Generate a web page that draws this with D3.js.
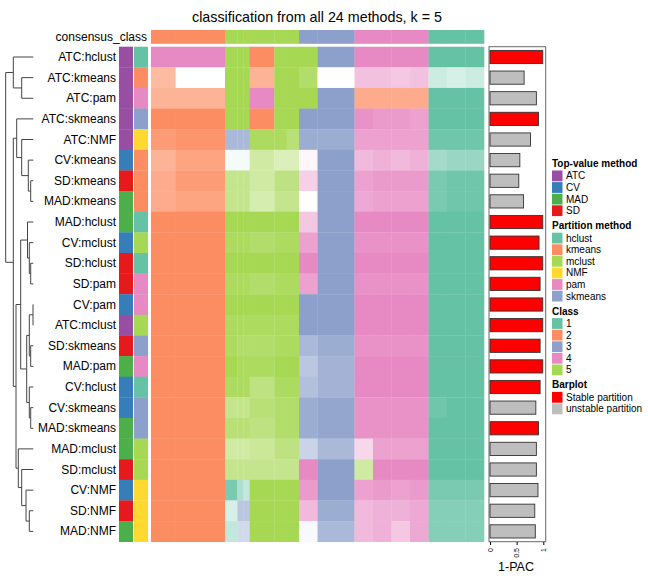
<!DOCTYPE html>
<html><head><meta charset="utf-8">
<script src="https://cdn.jsdelivr.net/npm/d3@7"></script>
<style>body{margin:0;background:#fff} text{font-family:"Liberation Sans",Arial,Helvetica,sans-serif}</style>
</head><body><svg id="c" width="648" height="576"></svg>
<script>
// ---------------- data ----------------
const methods = ["ATC:hclust","ATC:kmeans","ATC:pam","ATC:skmeans","ATC:NMF","CV:kmeans","SD:kmeans","MAD:kmeans",
  "MAD:hclust","CV:mclust","SD:hclust","SD:pam","CV:pam","ATC:mclust","SD:skmeans","MAD:pam",
  "CV:hclust","CV:skmeans","MAD:skmeans","MAD:mclust","SD:mclust","CV:NMF","SD:NMF","MAD:NMF"];
const topValue = methods.map(m => m.split(":")[0]);
const partition = methods.map(m => m.split(":")[1]);
const onePAC = [0.99,0.64,0.87,0.91,0.76,0.56,0.54,0.63,0.99,0.92,0.99,0.94,0.99,0.99,0.94,0.99,0.94,0.86,0.91,0.87,0.87,0.90,0.84,0.85];
const stable = [1,0,0,1,0,0,0,0,1,1,1,1,1,1,1,1,1,0,1,0,0,0,0,0];
// sample blocks (number of samples in each block of columns, 54 samples)
const blockWidths = [4,8,2,1,1,4,2,2,3,6,3,3,3,3,3,3,3];
const consensusClass = "22555555334444111";
// class per block (0 = no class / white)
const rowClass = [
 "44555255534444111","20555255504444111","22555455532222111","22555255334444111",
 "22333555334444111","22111555434444111","22555555434444111","22555555034444111",
 "22555555434444111","22555555434444111","22555555434444111","22555555434444111",
 "22555555334444111","22555555334444111","22555555334444111","22555555334444111",
 "22555555334444111","22555555334444111","22555555334444111","22555555334444111",
 "22555555435444111","22111555434444111","22133555434444111","22133555334444111"];
// membership per block, hex digit 0..f  (f = 1)
const rowMembership = [
 "fffffffffffffffff","90fffaffd08878545","aaffffffffbbbbfff","ffffffffffeddcfff",
 "debbbeecddcccceee","ac1118661f9a9a9aa","bdaaa8bb6fcddddee","bcaaa7aa0fbcccdee",
 "ffffffff7ffffffff","ffeeedeecfeeeefff","fffffffffffffffff","ffeeedeecfeeeefff",
 "fffffffffffffffff","ffeeeeeefffffffff","ffedddeebdeeeefff","fffeeeff9cfffffff",
 "ffeeebeeacfffffff","ffaaacdddeeeeeeff","ffcccbdddeeeeefff","ff8889bb7b5cccfff",
 "ffaaaaaaff8ffffff","ffd86fffdfcdcdddd","ff499fff9d9aabccc","ff666fff1b9a7bccc"];
// dendrogram: [height, left, right], leaves = row index
const dendro = [27.6,
  [20, 0, [11.6, 1, 2]],
  [20,
    [16.6, 3, [11.6, 4, [5, 5, [2.6, 6, 7]]]],
    [17.3,
      [12.6,
        [5.8, 8, [4, 9, [2.6, 10, 11]]],
        [6.6, [4, [0.3, 12, 13], [2.6, 14, 15]], [4, 16, [2.6, 17, 18]]]],
      [15, 19, [11.6, 20, [7.3, 21, [4, 22, 23]]]]]]];

const classColors = {"1":"#66C2A5","2":"#FC8D62","3":"#8DA0CB","4":"#E78AC3","5":"#A6D854"};
const topColors = {ATC:"#984EA3",CV:"#377EB8",MAD:"#4DAF4A",SD:"#E41A1C"};
const partColors = {hclust:"#66C2A5",kmeans:"#FC8D62",mclust:"#A6D854",NMF:"#FFD92F",pam:"#E78AC3",skmeans:"#8DA0CB"};
const barColors = {stable:"#FF0000", unstable:"#BEBEBE"};

// ---------------- drawing ----------------
const svg = d3.select("#c");
const y = d3.scaleBand().domain(d3.range(methods.length)).range([46.7, 541.7]);
const x = d3.scaleLinear().domain([0, 54]).range([151, 484]);
const starts = [0, ...d3.cumsum(blockWidths)];

svg.append("text").attr("x", 317).attr("y", 22).attr("text-anchor","middle")
  .attr("font-size", 14.3).text("classification from all 24 methods, k = 5");

// consensus row
svg.append("text").attr("x", 147).attr("y", 36.8).attr("text-anchor","end")
  .attr("dominant-baseline","central").attr("font-size", 12).text("consensus_class");
svg.append("g").selectAll("rect").data(consensusClass.split(""))
  .join("rect").attr("x",(d,i)=>x(starts[i])).attr("width",(d,i)=>x(starts[i+1])-x(starts[i])+0.3)
  .attr("y",30).attr("height",13.8).attr("fill",d=>classColors[d]);

// heatmap cells
const cells = [];
rowClass.forEach((s,r)=>s.split("").forEach((c,b)=>{
  cells.push({r,b,c,m:parseInt(rowMembership[r][b],16)/15});
}));
svg.append("g").selectAll("rect").data(cells).join("rect")
  .attr("x",d=>x(starts[d.b])).attr("width",d=>x(starts[d.b+1])-x(starts[d.b])+0.3)
  .attr("y",d=>y(d.r)).attr("height",y.bandwidth()+0.3)
  .attr("fill",d=> d.c==="0" ? "#ffffff" : d3.interpolateRgb("#ffffff", classColors[d.c])(d.m));

// annotation columns
svg.append("g").selectAll("rect").data(topValue).join("rect")
  .attr("x",119).attr("width",14).attr("y",(d,i)=>y(i)).attr("height",y.bandwidth()+0.3)
  .attr("fill",d=>topColors[d]);
svg.append("g").selectAll("rect").data(partition).join("rect")
  .attr("x",134).attr("width",14).attr("y",(d,i)=>y(i)).attr("height",y.bandwidth()+0.3)
  .attr("fill",d=>partColors[d]);

// row labels
svg.append("g").selectAll("text").data(methods).join("text")
  .attr("x",116).attr("y",(d,i)=>y(i)+y.bandwidth()/2).attr("text-anchor","end")
  .attr("dominant-baseline","central").attr("font-size",12).text(d=>d);

// dendrogram
const hx = d3.scaleLinear().domain([0, 27.6]).range([33.3, 5.7]);
const dg = svg.append("g").attr("stroke","#444").attr("stroke-width",1).attr("fill","none");
function layout(n){
  if (typeof n === "number") return {h:0, y:y(n)+y.bandwidth()/2};
  const a = layout(n[1]), b = layout(n[2]), h = n[0];
  dg.append("line").attr("x1",hx(h)).attr("x2",hx(h)).attr("y1",a.y).attr("y2",b.y);
  dg.append("line").attr("x1",hx(h)).attr("x2",hx(a.h)).attr("y1",a.y).attr("y2",a.y);
  dg.append("line").attr("x1",hx(h)).attr("x2",hx(b.h)).attr("y1",b.y).attr("y2",b.y);
  return {h, y:(a.y+b.y)/2};
}
layout(dendro);

// barplot
const bx = d3.scaleLinear().domain([0,1]).range([490, 543.3]);
svg.append("rect").attr("x",489).attr("y",46.7).attr("width",56.7).attr("height",495)
  .attr("fill","none").attr("stroke","#666").attr("stroke-width",1);
const bh = y.bandwidth()*0.64;
svg.append("g").selectAll("rect").data(onePAC).join("rect")
  .attr("x",bx(0)).attr("width",d=>bx(d)-bx(0))
  .attr("y",(d,i)=>y(i)+(y.bandwidth()-bh)/2).attr("height",bh)
  .attr("fill",(d,i)=>stable[i]?barColors.stable:barColors.unstable)
  .attr("stroke","#333").attr("stroke-width",0.9);
const ax = svg.append("g").attr("transform","translate(0,542)")
  .call(d3.axisBottom(bx).tickValues([0,0.5,1]).tickSize(3).tickFormat(d3.format("")));
ax.select(".domain").remove();
ax.selectAll("text").attr("font-size",7).attr("font-family","Liberation Sans, Arial, sans-serif")
  .attr("transform","rotate(-90)").attr("text-anchor","end").attr("dy","0.32em").attr("x",-6).attr("y",0);
svg.append("text").attr("x",516).attr("y",570.5).attr("text-anchor","middle").attr("font-size",12.5).text("1-PAC");

// legend
const legends = [
  {title:"Top-value method", items:Object.keys(topColors).map(k=>[k,topColors[k]])},
  {title:"Partition method", items:Object.keys(partColors).map(k=>[k,partColors[k]])},
  {title:"Class", items:Object.keys(classColors).map(k=>[k,classColors[k]])},
  {title:"Barplot", items:[["Stable partition",barColors.stable],["unstable partition",barColors.unstable]]}
];
let ly = 163.5;
const lg = svg.append("g");
legends.forEach(L=>{
  lg.append("text").attr("x",552).attr("y",ly).attr("dominant-baseline","central")
    .attr("font-size",10).attr("font-weight","bold").text(L.title);
  ly += 12.4;
  L.items.forEach(([name,col])=>{
    lg.append("rect").attr("x",552).attr("y",ly-5.4).attr("width",10.5).attr("height",10.8).attr("fill",col);
    lg.append("text").attr("x",566).attr("y",ly).attr("dominant-baseline","central").attr("font-size",10).text(name);
    ly += 11.6;
  });
  ly += 3.4;
});
</script></body></html>
